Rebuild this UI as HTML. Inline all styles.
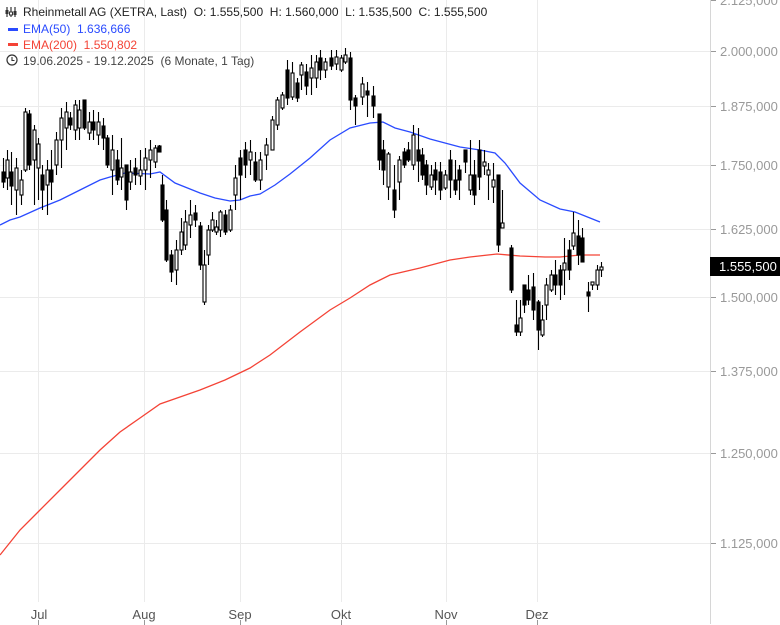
<!DOCTYPE html>
<html><head><meta charset="utf-8"><style>
html,body{margin:0;padding:0;background:#fff;width:780px;height:625px;overflow:hidden}
svg{display:block;font-family:"Liberation Sans",sans-serif}
text{white-space:pre}
</style></head><body>
<svg id="s" width="780" height="625" xmlns="http://www.w3.org/2000/svg">
<g stroke="#ebebeb" stroke-width="1">
<line x1="0" y1="51.5" x2="710" y2="51.5"/><line x1="0" y1="106.5" x2="710" y2="106.5"/>
<line x1="0" y1="165.5" x2="710" y2="165.5"/><line x1="0" y1="229.5" x2="710" y2="229.5"/>
<line x1="0" y1="297.5" x2="710" y2="297.5"/><line x1="0" y1="371.5" x2="710" y2="371.5"/>
<line x1="0" y1="453.5" x2="710" y2="453.5"/><line x1="0" y1="543.5" x2="710" y2="543.5"/>
<line x1="38.5" y1="0" x2="38.5" y2="602"/><line x1="144.5" y1="0" x2="144.5" y2="602"/>
<line x1="240.5" y1="0" x2="240.5" y2="602"/><line x1="341.5" y1="0" x2="341.5" y2="602"/>
<line x1="446.5" y1="0" x2="446.5" y2="602"/><line x1="537.5" y1="0" x2="537.5" y2="602"/>
</g>
<line x1="710.5" y1="0" x2="710.5" y2="624" stroke="#d6d6d6"/>
<g stroke="#999"><line x1="711" y1="0.5" x2="716" y2="0.5"/><line x1="711" y1="51.5" x2="716" y2="51.5"/><line x1="711" y1="106.5" x2="716" y2="106.5"/><line x1="711" y1="165.5" x2="716" y2="165.5"/><line x1="711" y1="229.5" x2="716" y2="229.5"/><line x1="711" y1="297.5" x2="716" y2="297.5"/><line x1="711" y1="371.5" x2="716" y2="371.5"/><line x1="711" y1="453.5" x2="716" y2="453.5"/><line x1="711" y1="543.5" x2="716" y2="543.5"/>
<line x1="38.5" y1="620" x2="38.5" y2="625"/><line x1="144.5" y1="620" x2="144.5" y2="625"/><line x1="240.5" y1="620" x2="240.5" y2="625"/><line x1="341.5" y1="620" x2="341.5" y2="625"/><line x1="446.5" y1="620" x2="446.5" y2="625"/><line x1="537.5" y1="620" x2="537.5" y2="625"/></g>
<g fill="#999" font-size="13">
<text x="720" y="5">2.125,000</text><text x="720" y="56">2.000,000</text><text x="720" y="111">1.875,000</text><text x="720" y="170">1.750,000</text><text x="720" y="234">1.625,000</text><text x="720" y="302">1.500,000</text><text x="720" y="376">1.375,000</text><text x="720" y="458">1.250,000</text><text x="720" y="548">1.125,000</text>
</g>
<g fill="#555" font-size="13" text-anchor="middle">
<text x="39" y="619">Jul</text><text x="144" y="619">Aug</text><text x="240" y="619">Sep</text><text x="341" y="619">Okt</text><text x="446" y="619">Nov</text><text x="537" y="619">Dez</text>
</g>
<polyline fill="none" stroke="#f44336" stroke-width="1.3" points="0,555 20,530 40,510 60,490 80,470 100,450 120,432 140,418 160,404 180,397 200,390 225,380 250,368 270,355 300,332 330,310 350,298 370,285 390,275 420,268 450,260 470,257 497,254 520,256 545,257 560,257 580,255 600,255"/>
<polyline fill="none" stroke="#2a4bff" stroke-width="1.3" points="0,225 10,220 20,217 40,208 60,200 80,190 100,180 110,177 125,173 150,174 160,172 175,183 185,187 200,193 215,198 230,201 240,200 250,196 260,194 275,185 290,174 310,158 330,140 350,128 370,123 383,122 395,128 410,132 430,139 460,147 480,150 495,153 505,163 520,183 540,200 560,209 575,212 590,218 600,222"/>
<g id="c" stroke="#000" stroke-width="1.1"></g>
<rect x="710" y="257" width="70" height="19" fill="#000"/>
<text x="719" y="271" fill="#fff" font-size="13">1.555,500</text>
<g font-size="12">
<g stroke="#333" fill="none" stroke-width="1.2"><line x1="7" y1="7" x2="7" y2="17"/><line x1="11" y1="7" x2="11" y2="17"/><line x1="15" y1="7" x2="15" y2="17"/></g>
<rect x="5.5" y="10" width="3" height="4" fill="#333"/><rect x="9.5" y="12" width="3" height="3" fill="#fff" stroke="#333"/><rect x="13.5" y="11" width="3" height="4" fill="#333"/>
<text x="23" y="16" fill="#222">Rheinmetall AG (XETRA, Last)  O: 1.555,500  H: 1.560,000  L: 1.535,500  C: 1.555,500</text>
<rect x="8" y="28" width="10" height="3" fill="#2a4bff"/><text x="23" y="33" fill="#2a4bff">EMA(50)  1.636,666</text>
<rect x="8" y="43" width="10" height="3" fill="#f44336"/><text x="23" y="49" fill="#f44336">EMA(200)  1.550,802</text>
<circle cx="12" cy="60" r="5" fill="none" stroke="#333" stroke-width="1.2"/><path d="M12 57v3.5h2.5" fill="none" stroke="#333" stroke-width="1.1"/>
<text x="23" y="65" fill="#444">19.06.2025 - 19.12.2025  (6 Monate, 1 Tag)</text>
</g>
</svg>
<script>
var d=[[3,172,182,158,188,1],[7,160,178,150,190,0],[11,172,186,152,205,1],[16,168,190,158,215,0],[21,180,195,170,205,0],[25,112,170,108,172,0],[29,114,165,110,170,1],[34,130,160,125,205,0],[38,144,168,138,200,0],[42,175,190,165,210,1],[47,170,185,160,215,0],[51,170,182,150,200,1],[56,140,165,132,175,0],[61,118,140,108,168,0],[66,112,128,102,150,0],[70,118,125,112,130,1],[75,105,130,100,140,0],[79,110,128,100,140,0],[84,100,128,100,130,1],[89,122,133,112,140,0],[93,122,130,110,140,1],[98,122,135,112,145,0],[103,126,138,118,150,1],[107,138,165,135,168,1],[112,150,170,135,195,0],[117,160,180,150,185,1],[121,168,177,138,190,0],[126,165,200,165,210,1],[130,172,182,160,190,0],[135,168,175,158,185,1],[140,170,176,150,185,0],[145,158,170,148,190,0],[150,150,160,140,178,0],[155,148,162,145,168,0],[159,146,152,145,150,1],[162,185,220,175,222,1],[166,210,260,200,262,1],[171,255,272,250,282,1],[176,250,270,240,285,0],[181,232,250,218,255,0],[185,222,245,210,250,0],[190,215,225,200,238,0],[195,213,220,205,227,1],[200,226,265,222,270,1],[204,265,302,250,305,0],[208,230,255,225,265,0],[212,220,230,212,232,0],[216,227,232,220,235,0],[220,212,230,210,237,0],[225,215,232,210,235,1],[230,210,230,205,232,0],[235,178,195,165,210,0],[240,158,175,150,200,1],[245,150,165,142,178,1],[250,152,160,140,175,0],[255,162,180,152,182,1],[260,160,180,152,190,0],[266,145,155,138,170,0],[272,120,150,116,150,0],[277,100,125,97,130,0],[282,95,108,92,110,0],[287,70,98,60,105,1],[292,73,97,62,100,0],[297,83,98,78,102,1],[301,65,75,62,90,0],[306,72,86,64,95,1],[311,68,78,55,95,0],[316,62,78,55,88,0],[320,58,70,50,80,1],[325,62,70,58,78,0],[331,58,66,50,70,1],[336,57,64,50,70,0],[341,58,70,55,72,0],[345,55,62,48,64,0],[350,58,100,52,110,1],[355,98,106,95,125,1],[362,84,97,77,105,0],[367,91,95,82,117,1],[373,96,106,86,118,1],[379,114,160,114,170,1],[383,150,170,140,185,1],[388,154,187,152,200,0],[394,190,210,165,218,1],[399,160,182,156,200,0],[404,152,165,148,168,1],[408,150,160,142,162,1],[413,135,165,125,170,0],[418,150,161,128,182,1],[422,155,175,148,180,1],[426,165,185,160,195,1],[431,175,187,165,190,0],[435,170,180,162,195,1],[440,172,190,162,200,1],[445,175,188,170,190,0],[450,160,180,150,198,1],[455,180,190,160,195,1],[459,170,180,165,200,1],[465,150,162,150,173,1],[470,175,190,140,195,0],[474,175,195,160,205,1],[479,150,177,140,190,1],[484,162,166,150,175,0],[488,170,175,163,200,0],[493,180,187,163,203,0],[498,175,245,175,252,1],[502,223,228,190,228,0],[511,248,290,245,293,1],[516,325,332,300,336,1],[520,318,332,300,336,0],[524,285,305,290,313,1],[528,290,300,275,305,1],[533,287,310,273,320,1],[538,302,330,300,350,1],[542,320,335,305,337,0],[546,285,305,278,320,0],[551,275,290,270,292,0],[555,275,285,260,295,1],[560,270,285,265,300,1],[564,263,270,238,295,0],[569,250,270,240,280,1],[573,233,246,212,250,0],[578,236,255,220,265,1],[582,238,262,228,262,1],[588,292,296,282,312,1],[592,282,285,282,290,0],[597,270,285,265,290,0],[601,267,270,262,277,0]];
var g=document.getElementById('c'),h='';
d.forEach(function(c){var x=c[0]+.5;h+='<line x1="'+x+'" y1="'+c[3]+'" x2="'+x+'" y2="'+c[4]+'"/>';
var t=c[1],b=Math.max(c[2],c[1]+1.5);h+='<rect x="'+(x-1.5)+'" y="'+t+'" width="3" height="'+(b-t)+'" fill="'+(c[5]?'#000':'#fff')+'"/>';});
g.innerHTML=h;
</script>
</body></html>
